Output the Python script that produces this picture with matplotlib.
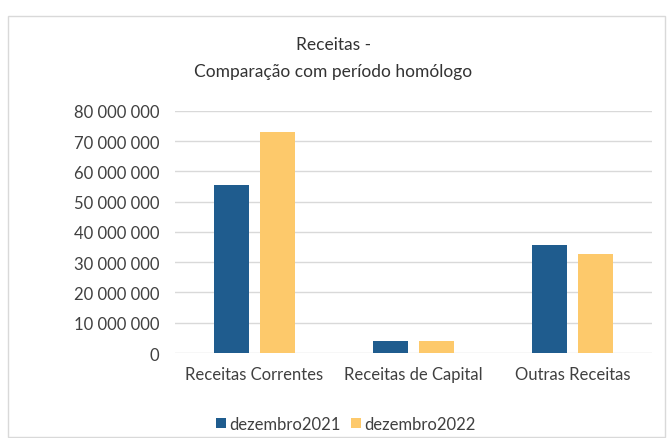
import matplotlib.pyplot as plt
from matplotlib.patches import Rectangle
import numpy as np

categories = ['Receitas Correntes', 'Receitas de Capital', 'Outras Receitas']
dez2021 = [55500000, 3900000, 35700000]
dez2022 = [73100000, 4100000, 32800000]
series_names = ['dezembro2021', 'dezembro2022']
yticks = list(range(0, 80000001, 10000000))

plt.rcParams['font.family'] = ['Lato', 'DejaVu Sans']

fig = plt.figure(figsize=(6.67, 4.39), dpi=100)
fig.patches.append(Rectangle((8 / 667, 1 / 439), 657 / 667, 421 / 439,
                             transform=fig.transFigure, fill=False,
                             edgecolor='#d9d9d9', linewidth=1))

ax = fig.add_axes([0.262, 0.1936, 0.716, 0.5514])
x = np.arange(len(categories))
w = 0.22
ax.bar(x - 0.145, dez2021, w, color='#1f5c8e', label=series_names[0], zorder=3)
ax.bar(x + 0.145, dez2022, w, color='#fdc96b', label=series_names[1], zorder=3)

ax.set_xlim(-0.5, 2.5)
ax.set_ylim(0, 80000000)
ax.set_yticks(yticks)
ax.set_yticklabels(['{:,}'.format(v).replace(',', ' ') for v in yticks])
ax.set_xticks(x)
ax.set_xticklabels(categories)
ax.tick_params(axis='both', length=0, labelsize=12, colors='#404040')
ax.tick_params(axis='y', pad=11)
ax.tick_params(axis='x', pad=9)
ax.grid(axis='y', color='#d9d9d9', linewidth=1, zorder=0)
for s in ax.spines.values():
    s.set_visible(False)

fig.text(0.5, 1 - 45 / 439, 'Receitas -', ha='center', va='center', fontsize=12.5, color='#333333')
fig.text(0.5, 1 - 72 / 439, 'Comparação com período homólogo', ha='center', va='center',
         fontsize=12.5, color='#333333')

fig.legend(loc='center', bbox_to_anchor=(0.518, 1 - 425 / 439), ncol=2, frameon=False,
           fontsize=12, handlelength=0.6, handleheight=0.6, handletextpad=0.2,
           columnspacing=0.6, labelcolor='#404040')

fig.savefig('out.png', dpi=100)
